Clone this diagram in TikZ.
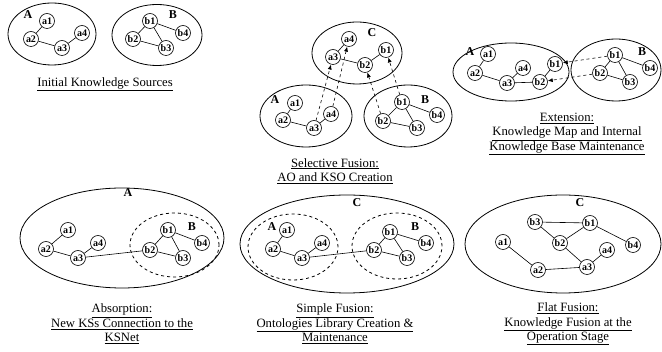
\documentclass[tikz,border=0pt]{standalone}
\usepackage{fontspec}
\setmainfont{Liberation Serif}
\usetikzlibrary{arrows.meta, shapes.geometric}

\begin{document}
\begin{tikzpicture}[
  x=1pt, y=-1pt,
  kn/.style={draw, circle, fill=white, line width=0.6pt, inner sep=0pt, minimum size=15pt, font=\fontsize{10}{10}\selectfont\bfseries},
  ks/.style={draw, ellipse, line width=0.8pt, inner sep=0pt},
  ksd/.style={ks, dashed},
  lbl/.style={font=\fontsize{12}{12}\selectfont\bfseries, inner sep=0pt},
  capt/.style={align=center, inner sep=0pt, font=\fontsize{12.7}{14.5}\selectfont},
  lnk/.style={line width=0.6pt},
  mv/.style={dashed, line width=0.6pt, ->},
  >={Latex[length=5pt, width=4pt]}
]
\useasboundingbox (0,0) rectangle (662,352);

% Initial knowledge sources
\node[ks, minimum width=88pt, minimum height=62pt] (iA) at (52,34) {};
\node[ks, minimum width=90pt, minimum height=61pt] (iB) at (157,35) {};
\node[lbl] (iAl) at (28,15) {A};
\node[lbl] (iBl) at (173,15) {B};
\node[kn] (ia1) at (47,21) {a1};
\node[kn] (ia2) at (31,39) {a2};
\node[kn] (ia3) at (62,48) {a3};
\node[kn] (ia4) at (82,33) {a4};
\node[kn] (ib1) at (150,21) {b1};
\node[kn] (ib2) at (133,39) {b2};
\node[kn] (ib3) at (166,48) {b3};
\node[kn] (ib4) at (183,33) {b4};
\draw[lnk] (ia1) -- (ia2) -- (ia3) -- (ia4);
\draw[lnk] (ib1) -- (ib2) -- (ib3) -- (ib1) -- (ib4);
\node[capt] (icap) at (105,84) {\underline{Initial Knowledge Sources}};

% Selective fusion
\node[ks, minimum width=90pt, minimum height=62pt] (sC) at (357,53) {};
\node[ks, minimum width=92pt, minimum height=62pt] (sA) at (306,116) {};
\node[ks, minimum width=88pt, minimum height=62pt] (sB) at (408,116) {};
\node[lbl] (sCl) at (372,33) {C};
\node[lbl] (sAl) at (275,100) {A};
\node[lbl] (sBl) at (425,100) {B};
\node[kn] (sca4) at (349,39) {a4};
\node[kn] (sca3) at (333,57) {a3};
\node[kn] (scb2) at (365,65) {b2};
\node[kn] (scb1) at (386,50) {b1};
\node[kn] (sa1) at (295,103) {a1};
\node[kn] (sa2) at (283,120) {a2};
\node[kn] (sa3) at (314,128) {a3};
\node[kn] (sa4) at (331,114) {a4};
\node[kn] (sb1) at (402,102) {b1};
\node[kn] (sb2) at (383,121) {b2};
\node[kn] (sb3) at (417,128) {b3};
\node[kn] (sb4) at (437,115) {b4};
\draw[lnk] (sca4) -- (sca3) -- (scb2) -- (scb1);
\draw[lnk] (sa1) -- (sa2) -- (sa3) -- (sa4);
\draw[lnk] (sb1) -- (sb2) -- (sb3) -- (sb1) -- (sb4);
\draw[mv] (sa3) -- (sca3);
\draw[mv] (sa4) -- (sca4);
\draw[mv] (sb2) -- (scb2);
\draw[mv] (sb1) -- (scb1);
\node[capt] (scap) at (335,171) {\underline{Selective Fusion:}\\\underline{AO and KSO Creation}};

% Extension
\node[ks, minimum width=116pt, minimum height=58pt] (eA) at (511,72) {};
\node[ks, minimum width=90pt, minimum height=62pt] (eB) at (616,70) {};
\node[lbl] (eAl) at (470,52) {A};
\node[lbl] (eBl) at (642,52) {B};
\node[kn] (ea1) at (488,54) {a1};
\node[kn] (ea2) at (475,73) {a2};
\node[kn] (ea3) at (507,83) {a3};
\node[kn] (ea4) at (523,68) {a4};
\node[kn] (eab1) at (555,64) {b1};
\node[kn] (eab2) at (540,82) {b2};
\node[kn] (eb1) at (615,55) {b1};
\node[kn] (eb2) at (600,73) {b2};
\node[kn] (eb3) at (630,82) {b3};
\node[kn] (eb4) at (650,68) {b4};
\draw[lnk] (ea1) -- (ea2) -- (ea3) -- (ea4);
\draw[lnk] (ea3) -- (eab2) -- (eab1);
\draw[lnk] (eb1) -- (eb2) -- (eb3) -- (eb1) -- (eb4);
\draw[mv] (eb1) -- (eab1);
\draw[mv] (eb2) -- (eab2);
\node[capt] (ecap) at (567,134) {\underline{Extension:}\\\underline{Knowledge Map and Internal}\\\underline{Knowledge Base Maintenance}};

% Absorption
\node[ks, minimum width=204pt, minimum height=100pt] (abA) at (122,238) {};
\node[ksd, minimum width=89pt, minimum height=64pt] (abB) at (174.5,245) {};
\node[lbl] (abAl) at (128,193) {A};
\node[lbl] (abBl) at (192,227) {B};
\node[kn] (aba1) at (68,230) {a1};
\node[kn] (aba2) at (46,249) {a2};
\node[kn] (aba3) at (78,258) {a3};
\node[kn] (aba4) at (98,243) {a4};
\node[kn] (abb1) at (168,230) {b1};
\node[kn] (abb2) at (150,250) {b2};
\node[kn] (abb3) at (183,258) {b3};
\node[kn] (abb4) at (202,243) {b4};
\draw[lnk] (aba1) -- (aba2) -- (aba3) -- (aba4);
\draw[lnk] (aba3) -- (abb2);
\draw[lnk] (abb1) -- (abb2) -- (abb3) -- (abb1) -- (abb4);
\node[capt] (abcap) at (122,324) {\underline{Absorption:}\\\underline{New KSs Connection to the}\\\underline{KSNet}};

% Simple fusion
\node[ks, minimum width=214pt, minimum height=98pt] (sfC) at (347,244) {};
\node[ksd, minimum width=90pt, minimum height=66pt] (sfA) at (293,247) {};
\node[ksd, minimum width=90pt, minimum height=66pt] (sfB) at (397,246) {};
\node[lbl] (sfCl) at (357,203) {C};
\node[lbl] (sfAl) at (272,227) {A};
\node[lbl] (sfBl) at (415,227) {B};
\node[kn] (sfa1) at (287,230) {a1};
\node[kn] (sfa2) at (273,249) {a2};
\node[kn] (sfa3) at (302,258) {a3};
\node[kn] (sfa4) at (322,243) {a4};
\node[kn] (sfb1) at (390,232) {b1};
\node[kn] (sfb2) at (374,250) {b2};
\node[kn] (sfb3) at (407,258) {b3};
\node[kn] (sfb4) at (426,243) {b4};
\draw[lnk] (sfa1) -- (sfa2) -- (sfa3) -- (sfa4);
\draw[lnk] (sfa3) -- (sfb2);
\draw[lnk] (sfb1) -- (sfb2) -- (sfb3) -- (sfb1) -- (sfb4);
\node[capt] (sfcap) at (335,324) {\underline{Simple Fusion:}\\\underline{Ontologies Library Creation \&}\\\underline{Maintenance}};

% Flat fusion
\node[ks, minimum width=196pt, minimum height=98pt] (ffC) at (563,244) {};
\node[lbl] (ffCl) at (580,203) {C};
\node[kn] (ffb3) at (535,222) {b3};
\node[kn] (ffb1) at (590,223) {b1};
\node[kn] (ffa1) at (503,242) {a1};
\node[kn] (ffb2) at (560,243) {b2};
\node[kn] (ffb4) at (633,245) {b4};
\node[kn] (ffa4) at (607,250) {a4};
\node[kn] (ffa3) at (587,267) {a3};
\node[kn] (ffa2) at (538,270) {a2};
\draw[lnk] (ffb3) -- (ffb1) -- (ffb2) -- (ffb3);
\draw[lnk] (ffb1) -- (ffb4);
\draw[lnk] (ffb2) -- (ffa3) -- (ffa4);
\draw[lnk] (ffa1) -- (ffa2) -- (ffa3);
\node[capt] (ffcap) at (568,324) {\underline{Flat Fusion:}\\\underline{Knowledge Fusion at the}\\\underline{Operation Stage}};
\end{tikzpicture}
\end{document}
